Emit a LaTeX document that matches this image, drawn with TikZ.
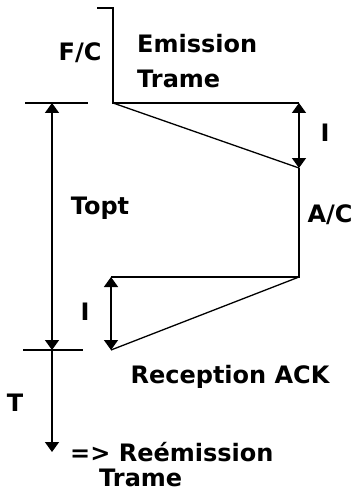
\documentclass[tikz,border=0pt]{standalone}
\usepackage{fontspec}
\setmainfont{DejaVu Sans}
\usepackage{tikz}
\usetikzlibrary{calc,arrows.meta,positioning}
\tikzset{
  ln/.style={line width=1.8pt,black},
  slant/.style={line width=1.3pt,black},
  dim/.style={{Triangle[length=10pt,width=14pt]}-{Triangle[length=10pt,width=14pt]},line width=1.6pt},
  dimend/.style={-{Triangle[length=10pt,width=14pt]},line width=1.6pt},
  lbl/.style={font=\fontsize{24}{35}\selectfont\bfseries,inner sep=0pt,align=left}
}
\begin{document}
\begin{tikzpicture}[x=1pt,y=-1pt]
\useasboundingbox (0,0) rectangle (354,497);
% sender and receiver time lines
\coordinate (s0) at (97,8);   \coordinate (s1) at (113,8);
\coordinate (emit) at (113,103);
\coordinate (e) at (299,103); \coordinate (arr) at (299,168);
\coordinate (q) at (299,277);  \coordinate (l) at (111,277);
\coordinate (ack) at (111,350);
\draw[ln] (s0)--(s1)--(emit)--(e);
\draw[slant] (emit)--(arr);
\draw[ln] (arr)--(q)--(l);
\draw[slant] (q)--(ack);
\draw[dim] (e)--(arr);
\draw[dim] (l)--(ack);
% timer
\coordinate (ta) at (52,103); \coordinate (tb) at (52,350); \coordinate (tc) at (52,452);
\draw[ln] (25,103)--(88,103);
\draw[ln] (23,350)--(83,350);
\draw[dim] (ta)--(tb);
\draw[dimend] (tb)--(tc);
% labels
\node[lbl] (fc) at (80,53) {F/C};
\node[lbl,anchor=west] (emis) at (137,61) {Emission\\Trame};
\node[lbl] (i1) at (325,133) {I};
\node[lbl] (topt) at (100,208) {Topt};
\node[lbl] (ac) at (330,215) {A/C};
\node[lbl] (i2) at (85,312) {I};
\node[lbl] (rack) at (230,377) {Reception ACK};
\node[lbl] (t) at (15,403) {T};
\node[lbl,anchor=west] (reem) at (70,452) {=> Reémission};
\node[lbl,anchor=west] (tram) at (99,478) {Trame};
\end{tikzpicture}
\end{document}
